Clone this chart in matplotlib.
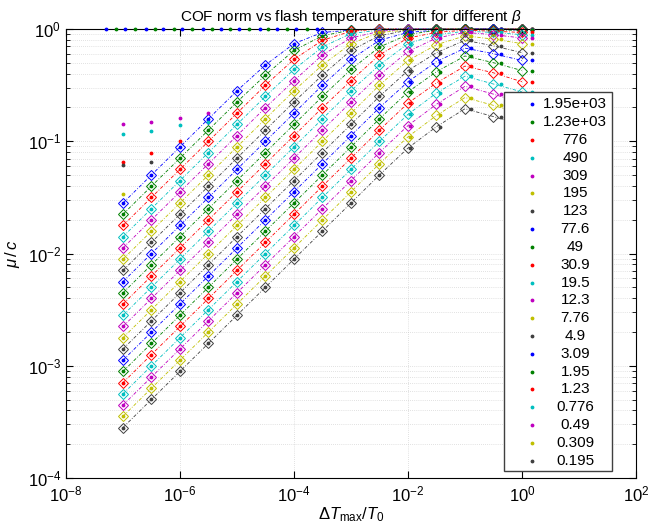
import matplotlib
matplotlib.use("Agg")
import matplotlib.pyplot as plt
from matplotlib.patches import Rectangle
from matplotlib.ticker import LogLocator, NullLocator, NullFormatter
import numpy as np

plt.rcParams['font.family'] = ['Liberation Sans', 'DejaVu Sans']
plt.rcParams['mathtext.fontset'] = 'custom'
plt.rcParams['mathtext.rm'] = 'Liberation Sans'
plt.rcParams['mathtext.it'] = 'Liberation Sans:italic'
plt.rcParams['mathtext.bf'] = 'Liberation Sans:bold'

# beta values (legend), top to bottom
beta_labels = ['1.95e+03', '1.23e+03', '776', '490', '309', '195', '123', '77.6',
               '49', '30.9', '19.5', '12.3', '7.76', '4.9', '3.09', '1.95', '1.23',
               '0.776', '0.49', '0.309', '0.195']

# x columns of the fitted curves (Delta T_max / T0)
x_cols = [1e-7, 3.16e-7, 1e-6, 3.16e-6, 1e-5, 3.16e-5, 1e-4, 3.16e-4,
          1e-3, 3.16e-3, 1e-2, 3.16e-2, 1e-1, 3.16e-1, 1.0]
# x of the data dots (shift to the right at large x)
x_dots = [1e-7, 3.16e-7, 1e-6, 3.16e-6, 1e-5, 3.16e-5, 1e-4, 3.16e-4,
          1e-3, 3.16e-3, 1.08e-2, 3.6e-2, 1.25e-1, 4.2e-1, 1.5]

# log10(mu/c), one row per beta
log_mu = [
    [-1.55, -1.30, -1.05, -0.80, -0.55, -0.32, -0.13, -0.03, -0.01, 0, 0, 0, 0, 0, 0],
    [-1.65, -1.40, -1.15, -0.90, -0.65, -0.41, -0.19, -0.06, -0.01, 0, 0, 0, 0, 0, 0],
    [-1.75, -1.50, -1.25, -1.00, -0.75, -0.50, -0.27, -0.10, -0.02, 0, 0, 0, 0, 0, 0],
    [-1.85, -1.60, -1.35, -1.10, -0.85, -0.60, -0.36, -0.16, -0.04, -0.01, 0, 0, 0, 0, 0],
    [-1.95, -1.70, -1.45, -1.20, -0.95, -0.70, -0.46, -0.23, -0.08, -0.02, 0, 0, 0, 0, 0],
    [-2.05, -1.80, -1.55, -1.30, -1.05, -0.80, -0.55, -0.32, -0.13, -0.03, -0.01, 0, 0, 0, 0],
    [-2.15, -1.90, -1.65, -1.40, -1.15, -0.90, -0.65, -0.41, -0.19, -0.06, -0.01, 0, 0, 0, 0],
    [-2.25, -2.00, -1.75, -1.50, -1.25, -1.00, -0.75, -0.50, -0.27, -0.10, -0.03, -0.01, 0, 0, -0.01],
    [-2.35, -2.10, -1.85, -1.60, -1.35, -1.10, -0.85, -0.60, -0.36, -0.16, -0.05, -0.01, 0, -0.01, -0.01],
    [-2.45, -2.20, -1.95, -1.70, -1.45, -1.20, -0.95, -0.70, -0.46, -0.23, -0.08, -0.03, -0.01, -0.02, -0.03],
    [-2.55, -2.30, -2.05, -1.80, -1.55, -1.30, -1.05, -0.80, -0.55, -0.32, -0.13, -0.05, -0.02, -0.03, -0.05],
    [-2.65, -2.40, -2.15, -1.90, -1.65, -1.40, -1.15, -0.90, -0.65, -0.41, -0.20, -0.08, -0.03, -0.05, -0.08],
    [-2.75, -2.50, -2.25, -2.00, -1.75, -1.50, -1.25, -1.00, -0.75, -0.50, -0.28, -0.14, -0.06, -0.09, -0.13],
    [-2.85, -2.60, -2.35, -2.10, -1.85, -1.60, -1.35, -1.10, -0.85, -0.60, -0.37, -0.21, -0.10, -0.15, -0.21],
    [-2.95, -2.70, -2.45, -2.20, -1.95, -1.70, -1.45, -1.20, -0.95, -0.70, -0.47, -0.29, -0.17, -0.22, -0.28],
    [-3.05, -2.80, -2.55, -2.30, -2.05, -1.80, -1.55, -1.30, -1.05, -0.80, -0.56, -0.38, -0.24, -0.30, -0.37],
    [-3.15, -2.90, -2.65, -2.40, -2.15, -1.90, -1.65, -1.40, -1.15, -0.90, -0.66, -0.48, -0.33, -0.39, -0.47],
    [-3.25, -3.00, -2.75, -2.50, -2.25, -2.00, -1.75, -1.50, -1.25, -1.00, -0.76, -0.57, -0.42, -0.49, -0.56],
    [-3.35, -3.10, -2.85, -2.60, -2.35, -2.10, -1.85, -1.60, -1.35, -1.10, -0.86, -0.67, -0.51, -0.58, -0.66],
    [-3.45, -3.20, -2.95, -2.70, -2.45, -2.20, -1.95, -1.70, -1.45, -1.20, -0.96, -0.77, -0.61, -0.68, -0.76],
    [-3.55, -3.30, -3.05, -2.80, -2.55, -2.30, -2.05, -1.80, -1.55, -1.30, -1.06, -0.87, -0.71, -0.78, -0.86],
]

# stray data dots stuck at mu/c = 1
top_x = [5.0e-8, 7.6e-8, 1.1e-7, 1.6e-7, 2.5e-7, 3.6e-7, 5.0e-7, 7.8e-7, 1.1e-6,
         1.6e-6, 2.5e-6, 3.6e-6, 5.2e-6, 7.6e-6, 1.1e-5, 1.6e-5, 2.5e-5, 3.5e-5,
         5.0e-5, 7.6e-5, 1.1e-4, 1.7e-4, 2.5e-4]
top_c = [0, 1] * 12

# stray data dots in the upper left
odd_x = [1e-7, 1e-7, 1e-7, 1e-7, 1e-7, 3.16e-7, 3.16e-7, 3.16e-7, 3.16e-7,
         1e-6, 1e-6, 1e-6, 3.16e-6, 3.16e-6]
odd_y = [0.142, 0.117, 0.066, 0.061, 0.034, 0.149, 0.124, 0.079, 0.066,
         0.161, 0.139, 0.100, 0.180, 0.150]
odd_c = [4, 3, 2, 6, 5, 4, 3, 2, 6, 4, 3, 2, 4, 3]

colors = ['#0000ff', '#008000', '#ff0000', '#00bfbf', '#bf00bf', '#bfbf00', '#404040']

fig = plt.figure(figsize=(6.6, 5.25), dpi=100)
ax = fig.add_axes([0.1, 0.0895, 0.8636, 0.8552])
ax.set_xscale('log')
ax.set_yscale('log')

for i, row in enumerate(log_mu):
    c = colors[i % 7]
    y = [10 ** v for v in row]
    ax.plot(x_dots, y, '.', color=c, ms=3.5, zorder=3, clip_on=False)
    ax.plot(x_cols, y, color=c, ls=(0, (4, 2, 1, 2)), lw=0.6, marker='D',
            ms=5.5, mfc='none', mew=0.7, zorder=2, clip_on=False)

for xv, ci in zip(top_x, top_c):
    ax.plot(xv, 1.0, '.', color=colors[ci], ms=3.5, zorder=3, clip_on=False)
for xv, yv, ci in zip(odd_x, odd_y, odd_c):
    ax.plot(xv, yv, '.', color=colors[ci], ms=3.5, zorder=3)

ax.set_xlim(1e-8, 1e2)
ax.set_ylim(1e-4, 1)
ax.set_xticks([1e-8, 1e-6, 1e-4, 1e-2, 1e0, 1e2])
ax.xaxis.set_minor_locator(NullLocator())
ax.yaxis.set_minor_locator(LogLocator(base=10, subs=np.arange(2, 10)))
ax.yaxis.set_minor_formatter(NullFormatter())
ax.tick_params(which='both', direction='in', top=True, right=True, labelsize=12)
ax.tick_params(axis='x', pad=5)
ax.tick_params(which='major', length=5)
ax.tick_params(which='minor', length=3)
ax.grid(True, which='major', ls=(0, (1, 2)), color='0.78', lw=0.5)
ax.grid(True, which='minor', axis='y', ls=(0, (1, 2)), color='0.78', lw=0.5)

ax.set_title(r'COF norm vs flash temperature shift for different $\beta$', fontsize=11, pad=6)
ax.set_xlabel(r'$\Delta T_{\rm max}/T_0$', fontsize=12, labelpad=0)
ax.set_ylabel(r'$\mu\,/\,c$', fontsize=12, labelpad=4)

# legend box (dots + centred labels)
ax.add_patch(Rectangle((0.768, 0.0156), 0.19, 0.844, transform=ax.transAxes,
                       facecolor='white', edgecolor='#404040', lw=1.0, zorder=10))
for i, lab in enumerate(beta_labels):
    yy = 0.8323 - i * 0.03969
    ax.plot(0.817, yy, '.', color=colors[i % 7], ms=3.5, transform=ax.transAxes,
            zorder=11, clip_on=False)
    ax.text(0.8935, yy, lab, transform=ax.transAxes, ha='center', va='center',
            fontsize=11, zorder=11)

fig.savefig('out.png', dpi=100)
